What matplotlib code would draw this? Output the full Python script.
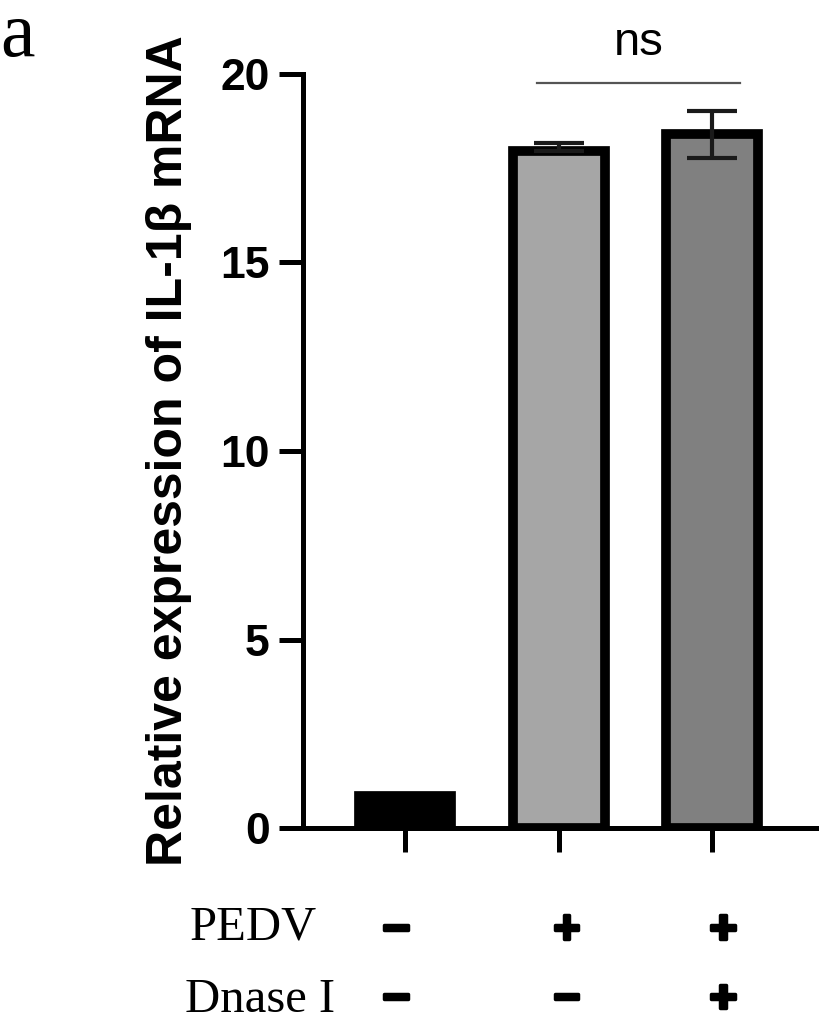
import matplotlib.pyplot as plt
import matplotlib.patheffects as pe
import numpy as np

plt.rcParams['font.family'] = ['Liberation Sans', 'DejaVu Sans']

groups = ["ctrl", "PEDV", "PEDV+Dnase I"]
means = [0.85, 17.95, 18.4]
err_low = [0.0, 0.0, 0.62]
err_high = [0.0, 0.22, 0.62]
colors = ["#000000", "#a6a6a6", "#808080"]
pedv = ["\u2212", "+", "+"]
dnase = ["\u2212", "\u2212", "+"]

fig = plt.figure(figsize=(8.19, 10.25), dpi=100)
ax = fig.add_axes([0.37, 0.192, 0.629, 0.736])

x = np.arange(len(groups))
ax.bar(x, means, width=0.6, color=colors, edgecolor="black", linewidth=7, zorder=2)
ax.errorbar(x[1:], means[1:], yerr=[err_low[1:], err_high[1:]], fmt="none",
            ecolor="#1a1a1a", elinewidth=3, capsize=18, capthick=3, zorder=3)

ax.set_xlim(-0.665, 2.69)
ax.set_ylim(0, 20)
ax.set_yticks([0, 5, 10, 15, 20])
ax.set_xticks(x)
ax.set_xticklabels([])
for s in ["top", "right"]:
    ax.spines[s].set_visible(False)
for s in ["left", "bottom"]:
    ax.spines[s].set_linewidth(3.6)
ax.tick_params(axis="both", length=17, width=3.6)
ax.tick_params(axis="y", labelsize=32, pad=7)
for lab in ax.get_yticklabels():
    lab.set_fontweight("bold")
ax.set_ylabel("Relative expression of IL-1β mRNA", fontsize=36, fontweight="bold", labelpad=20)

# significance bracket
ax.plot([0.86, 2.18], [19.76, 19.76], color="#555555", lw=1.6, clip_on=False)
ax.text(1.52, 20.5, "ns", ha="center", va="baseline", fontsize=34)

# treatment table below
trans = ax.get_xaxis_transform()
sign_x = x + np.array([-0.06, 0.05, 0.07])
bold = [pe.withStroke(linewidth=2.5, foreground="black")]
for i in range(len(groups)):
    ax.text(sign_x[i], -0.136, pedv[i], ha="center", va="center", fontsize=34,
            fontweight="bold", transform=trans, path_effects=bold)
    ax.text(sign_x[i], -0.228, dnase[i], ha="center", va="center", fontsize=34,
            fontweight="bold", transform=trans, path_effects=bold)
fig.text(0.232, 0.083, "PEDV", ha="left", va="baseline", fontsize=35,
         family="Liberation Serif")
fig.text(0.226, 0.013, "Dnase I", ha="left", va="baseline", fontsize=35,
         family="Liberation Serif")
fig.text(0.0, 0.945, "a", ha="left", va="baseline", fontsize=56,
         family="Liberation Serif")

plt.savefig("out.png", dpi=100)
